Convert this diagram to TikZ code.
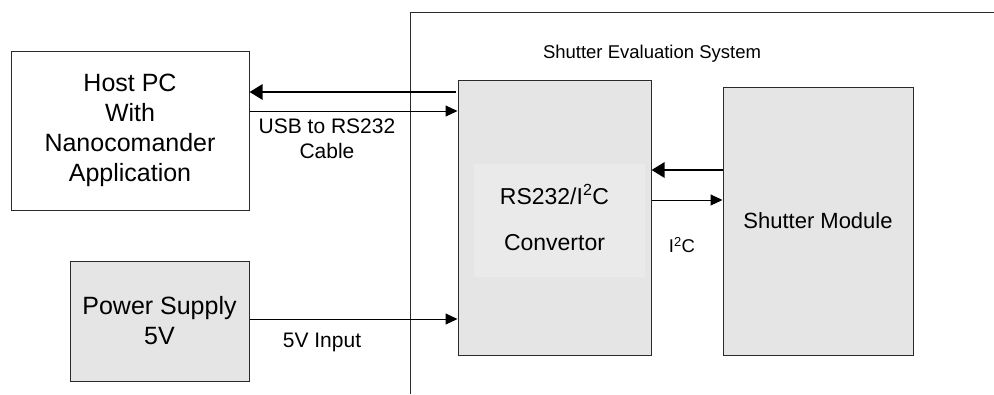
\documentclass[tikz,border=0pt]{standalone}
\usepackage{fontspec}
\setmainfont{Liberation Sans}
\usepackage{xcolor}
\usepackage{tikz}
\usetikzlibrary{arrows.meta,positioning,calc}
\definecolor{BoxGray}{HTML}{E5E5E5}
\definecolor{InnerGray}{HTML}{EAEAEA}
\definecolor{EdgeGray}{HTML}{2A2A2A}
\tikzset{
  block/.style={draw=EdgeGray,line width=1pt,inner sep=0pt,align=center,
    font=\fontsize{25}{30}\selectfont},
  label/.style={align=center,font=\fontsize{21}{25}\selectfont},
  thin link/.style={->,line width=1pt,>={Triangle[length=12pt,width=11pt]}},
  thick link/.style={->,line width=2.8pt,>={Triangle[length=13pt,width=15pt]}}
}

\begin{document}
\begin{tikzpicture}[x=1pt,y=-1pt]
  \useasboundingbox (0,0) rectangle (994,394);
  % system frame
  \draw[EdgeGray,line width=1pt] (410,394)--(410,12)--(994,12);
  \node[label,font=\fontsize{18.5}{22}\selectfont] (title) at (652,54) {Shutter Evaluation System};
  % blocks
  \node[block,fill=white,minimum width=238pt,minimum height=159pt] (host) at (130,130.5)
    {Host PC\\With\\Nanocomander\\Application};
  \node[block,fill=BoxGray,minimum width=179pt,minimum height=120pt] (power) at (159.5,321)
    {Power Supply\\5V};
  \node[block,fill=BoxGray,minimum width=193pt,minimum height=275pt] (conv) at (554.5,217.5) {};
  \fill[InnerGray] (474,164) rectangle (645,277);
  \node[align=center,font=\fontsize{23}{46}\selectfont] (convtext) at (conv.center)
    {RS232/I\textsuperscript{2}C\\Convertor};
  \node[block,fill=BoxGray,minimum width=190pt,minimum height=268pt,
    font=\fontsize{22}{30}\selectfont] (shutter) at (818,221) {Shutter Module};
  % links
  \draw[thick link] ([xshift=-2pt]conv.west |- 0,92) -- (host.east |- 0,92);
  \draw[thin link] (host.east |- 0,111) -- (conv.west |- 0,111);
  \node[label] (usb) at (327,138.5) {USB to RS232\\Cable};
  \draw[thin link] (power.east |- 0,319) -- (conv.west |- 0,319);
  \node[label] (input) at (322,342) {5V Input};
  \draw[thick link] (shutter.west |- 0,170) -- (conv.east |- 0,170);
  \draw[thin link] (conv.east |- 0,200) -- (shutter.west |- 0,200);
  \node[label,font=\fontsize{18.5}{22}\selectfont] (i2c) at (682,245) {I\textsuperscript{2}C};
\end{tikzpicture}
\end{document}
